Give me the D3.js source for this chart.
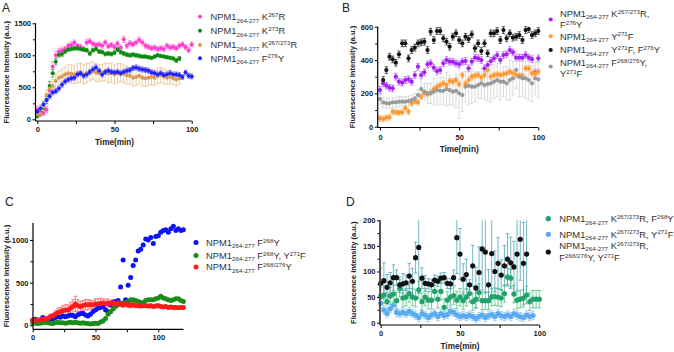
<!DOCTYPE html>
<html><head><meta charset="utf-8">
<script src="https://cdn.jsdelivr.net/npm/d3@7"></script>
<style>body{margin:0;background:#fff}svg{display:block}text{font-family:"Liberation Sans",Arial,Helvetica,sans-serif}</style>
</head><body><svg id="c" width="674" height="352"></svg>
<script>
// ---------------- DATA ----------------
const tA100 = [0,2,4,6,8,10,12,14,16,18,20,22,24,26,28,30,32,34,36,38,40,42,44,46,48,50,52,54,56,58,60,62,64,66,68,70,72,74,76,78,80,82,84,86,88,90,92,94,96,98,100];
const tA92 = [0,2,4,6,8,10,12,14,16,18,20,22,24,26,28,30,32,34,36,38,40,42,44,46,48,50,52,54,56,58,60,62,64,66,68,70,72,74,76,78,80,82,84,86,88,90,92];
const aK267R = [150,80,100,150,450,820,1000,1060,1080,1100,1150,1160,1200,1150,1130,1100,1200,1220,1180,1160,1170,1150,1200,1140,1160,1130,1180,1120,1250,1150,1190,1170,1200,1240,1200,1150,1130,1110,1120,1100,1110,1100,1150,1120,1130,1110,1150,1170,1130,1080,1170];
const aK267Rerr = [50,40,40,50,60,80,60,50,50,40,40,50,40,40,40,40,50,40,40,40,40,40,40,40,40,40,40,40,50,40,40,40,40,40,40,40,40,40,40,40,40,40,40,40,40,40,40,40,40,40,40];
const aK273R = [50,100,180,300,520,720,900,1010,1020,1060,1090,1100,1110,1110,1100,1090,1080,1030,1080,1100,1060,1050,1020,1030,1020,1040,1090,1050,1030,1010,1000,1010,1000,990,980,980,970,960,980,1000,990,980,970,960,950,920,950];
const aK273Rerr = [30,40,50,60,70,60,50,40,40,30,30,30,30,30,30,30,30,30,30,30,30,30,30,30,30,30,30,30,30,30,30,30,30,30,25,25,25,25,25,25,25,25,25,25,25,30,30];
const aK267273R = [80,90,200,380,480,520,600,650,670,700,720,710,700,720,730,700,720,740,760,730,720,730,740,720,730,700,720,730,710,690,680,650,660,680,650,640,650,660,650,680,690,670,650,660,640,620,640];
const aK267273Rerr = [30,40,60,80,90,100,100,110,120,120,130,140,140,150,150,150,150,140,140,140,130,130,140,150,150,150,150,140,140,140,130,130,130,130,130,130,120,120,120,120,120,120,110,110,100,100,90];
const aF276Y = [120,170,230,300,360,420,440,480,540,590,620,640,650,700,720,680,700,740,780,810,760,700,740,760,740,730,740,720,740,760,770,800,810,790,780,770,760,730,720,700,720,690,700,720,700,700,690,660,730,680,670];
const aF276Yerr = [40,50,50,50,40,40,40,40,40,40,40,40,40,40,40,40,40,40,40,40,40,40,40,40,40,40,40,40,40,40,40,40,40,40,40,40,40,40,40,40,40,40,40,40,40,40,40,40,40,40,40];

const tB100 = tA100;
const tB2 = [2,4,6,8,10,12,14,16,18,20,22,24,26,28,30,32,34,36,38,40,42,44,46,48,50,52,54,56,58,60,62,64,66,68,70,72,74,76,78,80,82,84,86,88,90,92,94,96,98,100];
const bK267273RF276Y = [220,260,246,234,230,300,270,264,280,284,270,310,360,310,326,374,380,354,334,340,380,400,390,390,380,374,390,394,350,390,414,410,400,350,370,394,410,430,400,430,434,460,446,414,414,414,430,414,405,325,410];
const bY271F = [50,46,54,56,90,86,84,86,110,90,140,154,146,180,200,194,206,226,240,250,260,250,274,270,280,254,310,260,280,300,306,310,294,310,340,300,310,314,310,314,320,330,320,310,306,306,350,350,320,320,330];
const bY271FF276Y = [280,340,420,404,384,434,500,500,410,460,474,500,506,510,460,570,520,574,574,530,510,480,540,560,520,500,540,526,554,470,500,454,500,440,560,560,574,520,580,530,560,534,540,550,520,580,586,550,560,574];
const bF268276YY271F = [166,146,140,140,146,146,150,150,150,154,160,170,190,226,210,200,200,210,220,215,215,225,220,210,215,200,190,240,245,240,240,250,260,250,255,260,270,280,270,270,260,280,290,340,300,290,290,280,260,290,284];
const bF268276YY271Ferr = [30,30,30,30,30,30,30,30,30,30,30,30,30,60,50,60,60,80,90,80,80,100,90,80,100,150,100,90,110,100,90,80,90,90,100,110,100,100,110,90,100,120,100,110,120,110,120,120,110,100,110];
const bErrSmall = 20;

const tC = [0,2,4,6,8,10,12,14,16,18,20,22,24,26,28,30,32,34,36,38,40,42,44,46,48,50,52,54,56,58,60,62,64,66,68,70,72,74,76,78,80,82,84,86,88,90,92,94,96,98,100,102,104,106,108,110,112,114,116,118,120];
const cF268Y = [60,70,60,55,90,70,65,80,75,90,100,95,110,100,110,120,115,100,125,135,140,120,110,130,160,180,200,210,220,180,160,240,270,280,290,450,765,300,470,560,700,765,870,890,940,1010,1000,1030,960,1040,1050,1090,1110,1120,1090,1130,1160,1110,1130,1110,1120];
const cF268YY271F = [30,25,20,25,30,35,30,25,20,30,35,30,30,25,30,35,30,35,30,25,30,25,20,15,20,25,20,40,50,80,130,160,190,220,240,250,260,265,280,300,300,290,280,270,260,290,300,300,300,310,320,340,320,310,300,290,300,310,310,290,280];
const cF268276Y = [60,55,60,65,70,75,80,100,110,130,150,160,170,180,180,200,220,250,230,220,230,240,240,245,240,250,250,255,260,250,260,255,260,250,260,250,240,250,240,235,240,230,230,225,230,230,225,230,220,225,230,220,215,220,210,215,210,210,205,210,210];
const cF268276Yerr = [20,20,20,20,20,20,25,30,30,40,50,50,60,60,60,70,80,90,70,60,60,60,60,50,50,60,60,60,50,50,50,40,40,40,30,30,30,30,30,30,25,20,20,20,20,20,20,20,20,20,20,15,15,15,15,15,15,15,15,15,15];

const tD92 = tA92;
const tD100 = tA100;
const tD96 = [0,2,4,6,8,10,12,14,16,18,20,22,24,26,28,30,32,34,36,38,40,42,44,46,48,50,52,54,56,58,60,62,64,66,68,70,72,74,76,78,80,82,84,86,88,90,92,94,96];
const dF268Y = [52,54,41,52,56,43,67,48,50,57,50,48,64,41,50,44,44,61,46,61,30,44,50,53,44,50,43,50,57,41,46,59,43,43,43,50,51,50,48,57,89,87,56,44,46,48,54,41,46,46,46];
const dY271F = [38,25,18,27,34,20,18,20,18,22,18,15,10,18,15,10,15,18,12,18,14,16,22,20,15,12,14,12,15,12,8,12,15,10,14,16,12,18,14,12,15,12,18,15,12,10,15,12,14];
const dTriple = [77,82,69,78,88,88,74,76,78,91,81,127,147,87,77,76,74,83,81,87,88,77,76,88,166,134,85,94,74,111,68,98,144,138,74,135,100,116,93,111,124,117,109,134,163,116,134];
const dTripleErr = [30,35,25,20,25,15,15,20,15,25,25,30,90,20,15,10,10,10,10,10,10,10,10,15,70,50,30,30,10,40,40,50,80,80,30,80,40,50,30,40,50,50,50,70,80,80,80];

// tick values
const xTicks = [0,50,100], xMinor = [25,75];
const yTicksA = [0,500,1000,1500], yMinorA = [250,750,1250];
const yTicksB = [0,200,400,600], yMinorB = [100,300,500];
const yTicksC = [0,500,1000], yMinorC = [250,750];
const yTicksD = [0,50,100,150,200], yMinorD = [25,75,125,175];

// legend labels: [text, kind]
const P = [["NPM1",""],["264-277","sub"]];
const legendA = [
  [[...P,[" K",""],["267","sup"],["R",""]]],
  [[...P,[" K",""],["273","sup"],["R",""]]],
  [[...P,[" K",""],["267/273","sup"],["R",""]]],
  [[...P,[" F",""],["276","sup"],["Y",""]]]
];
const legendB = [
  [[...P,[" K",""],["267/273","sup"],["R,",""]],[["F",""],["276","sup"],["Y",""]]],
  [[...P,[" Y",""],["271","sup"],["F",""]]],
  [[...P,[" Y",""],["271","sup"],["F, F",""],["276","sup"],["Y",""]]],
  [[...P,[" F",""],["268/276","sup"],["Y,",""]],[["Y",""],["271","sup"],["F",""]]]
];
const legendC = [
  [[...P,[" F",""],["268","sup"],["Y",""]]],
  [[...P,[" F",""],["268","sup"],["Y, Y",""],["271","sup"],["F",""]]],
  [[...P,[" F",""],["268/276","sup"],["Y",""]]]
];
const legendD = [
  [[...P,[" K",""],["267/273","sup"],["R, F",""],["268","sup"],["Y",""]]],
  [[...P,[" K",""],["267/273","sup"],["R, Y",""],["271","sup"],["F",""]]],
  [[...P,[" K",""],["267/273","sup"],["R,",""]],[["F",""],["268/276","sup"],["Y, Y",""],["271","sup"],["F",""]]]
];

// ---------------- DRAW ----------------
const svg = d3.select("#c");
const FONT_T = 7.5;

function richText(g, x, y, segs, size, fill){
  const t = g.append("text").attr("x",x).attr("y",y).attr("font-size",size).attr("fill",fill);
  let shift = 0;
  segs.forEach(([s,k])=>{
    const target = k==="sub" ? size*0.26 : (k==="sup" ? -size*0.36 : 0);
    t.append("tspan").attr("dy", target-shift).attr("font-size", k ? size*0.66 : size).text(s);
    shift = target;
  });
}

function panel(o){
  const g = svg.append("g");
  const x = d3.scaleLinear().domain(o.xd).range(o.xr);
  const y = d3.scaleLinear().domain(o.yd).range(o.yr);

  // error bars
  o.series.forEach(s=>{
    if(s.e===undefined) return;
    const eg = g.append("g").attr("stroke", s.ec).attr("stroke-width", 0.8).attr("fill","none");
    s.t.forEach((t,i)=>{
      const e = Array.isArray(s.e) ? s.e[i] : s.e;
      if(!e) return;
      const v = s.v[i];
      const hi = Math.min(o.yd[1], v+e), lo = Math.max(o.yd[0], v-e);
      const cx = x(t), cw = o.cap;
      eg.append("line").attr("x1",cx).attr("x2",cx).attr("y1",y(lo)).attr("y2",y(hi));
      if(v+e <= o.yd[1]) eg.append("line").attr("x1",cx-cw).attr("x2",cx+cw).attr("y1",y(hi)).attr("y2",y(hi));
      if(v-e >= o.yd[0]) eg.append("line").attr("x1",cx-cw).attr("x2",cx+cw).attr("y1",y(lo)).attr("y2",y(lo));
    });
  });
  // points
  o.series.forEach(s=>{
    g.append("g").attr("fill", s.c).selectAll("circle").data(s.t).join("circle")
      .attr("cx", d=>x(d)).attr("cy", (d,i)=>y(s.v[i])).attr("r", o.r);
  });

  // axes
  const xa = g.append("g").attr("transform",`translate(0,${o.axY})`)
    .call(d3.axisBottom(x).tickValues(xTicks.filter(v=>v<=o.xd[1])).tickSize(3).tickPadding(o.xpad).tickFormat(d=>d));
  const xm = g.append("g").attr("transform",`translate(0,${o.axY})`)
    .call(d3.axisBottom(x).tickValues(xMinor).tickSize(3).tickFormat(""));
  const ya = g.append("g").attr("transform",`translate(${o.axX},0)`)
    .call(d3.axisLeft(y).tickValues(o.yt).tickSize(3).tickPadding(1.5).tickFormat(d=>d));
  const ym = g.append("g").attr("transform",`translate(${o.axX},0)`)
    .call(d3.axisLeft(y).tickValues(o.ym).tickSize(2.5).tickFormat(""));
  [xa,xm,ya,ym].forEach(a=>{
    a.select(".domain").remove();
    a.selectAll("line").attr("stroke","#000").attr("stroke-width",1);
    a.selectAll("text").attr("font-size",FONT_T).attr("font-weight","bold").attr("fill","#222");
  });
  g.append("line").attr("x1",o.axX).attr("x2",x(o.xd[1])).attr("y1",o.axY).attr("y2",o.axY)
    .attr("stroke","#000").attr("stroke-width",1.2);
  g.append("line").attr("x1",o.axX).attr("x2",o.axX).attr("y1",y(o.yd[1])).attr("y2",o.axY)
    .attr("stroke",o.yaxColor||"#000").attr("stroke-width",o.yaxW||1.2);

  // titles
  g.append("text").attr("transform",`translate(${o.ylx},${(y(o.yd[1])+o.axY)/2}) rotate(-90)`)
    .attr("text-anchor","middle").attr("font-size",7.6).attr("font-weight","bold").attr("fill","#222")
    .text("Fluorescence Intensity (a.u.)");
  if(o.xly) g.append("text").attr("x",(x(o.xd[0])+x(100))/2).attr("y",o.xly).attr("text-anchor","middle")
    .attr("font-size",8.2).attr("font-weight","bold").attr("fill","#222").text("Time(min)");
  g.append("text").attr("x",o.lab[1]).attr("y",o.lab[2]).attr("font-size",12).attr("fill","#222").text(o.lab[0]);

  // legend
  o.legend.forEach((entry,i)=>{
    const L = o.leg[i];
    g.append("circle").attr("cx",o.mx).attr("cy",L.m).attr("r",o.r).attr("fill",o.series[i].c);
    entry.forEach((line,j)=> richText(g, o.tx, L.l[j]+3.4, line, 9.4, "#333"));
  });
}

panel({
  xd:[0,100], xr:[37.3,191.7], yd:[0,1500], yr:[119.3,23.3], axX:35.5, axY:121, xpad:2.5,
  yt:yTicksA, ym:yMinorA, r:2, cap:1.6, ylx:9, xly:144.5, lab:["A",2,11.5],
  series:[
    {t:tA100, v:aK267R, e:aK267Rerr, c:"#ff3fd0", ec:"#ff7fe0"},
    {t:tA92, v:aK273R, e:aK273Rerr, c:"#0c8a0c", ec:"#3faa3f"},
    {t:tA92, v:aK267273R, e:aK267273Rerr, c:"#d99a55", ec:"#e8c08e"},
    {t:tA100, v:aF276Y, e:aF276Yerr, c:"#2323ff", ec:"#7070ff"}
  ],
  legend:legendA, mx:200, tx:210.5,
  leg:[{m:16.7,l:[16.7]},{m:30.7,l:[30.7]},{m:45,l:[45]},{m:58.3,l:[58.3]}]
});

panel({
  xd:[0,100], xr:[380,538.3], yd:[0,600], yr:[126.7,26.7], axX:377.7, axY:127.5, xpad:4.5,
  yt:yTicksB, ym:yMinorB, r:2.1, cap:1.6, ylx:355, xly:152, lab:["B",342,11.5],
  series:[
    {t:tB100, v:bK267273RF276Y, e:bErrSmall, c:"#a21ff0", ec:"#b55af5"},
    {t:tB100, v:bY271F, e:16, c:"#ff9a2e", ec:"#ffb060"},
    {t:tB2, v:bY271FF276Y, e:bErrSmall, c:"#111", ec:"#333"},
    {t:tB100, v:bF268276YY271F, e:bF268276YY271Ferr, c:"#9a9a9a", ec:"#d2d2d2"}
  ],
  legend:legendB, mx:550.7, tx:560,
  leg:[{m:19.5,l:[13.5,24.8]},{m:36.3,l:[36.3]},{m:50,l:[50]},{m:66.5,l:[62.5,73.5]}]
});

panel({
  xd:[0,120], xr:[32.7,183.4], yd:[0,1200], yr:[325.3,222.9], axX:33, axY:329.3, xpad:2.5,
  yt:yTicksC, ym:yMinorC, r:2.5, cap:1.8, ylx:8.5, xly:null, lab:["C",5,205.5],
  series:[
    {t:tC, v:cF268Y, c:"#0a14f5"},
    {t:tC, v:cF268YY271F, c:"#1a8c1a"},
    {t:tC, v:cF268276Y, e:cF268276Yerr, c:"#ff1a1a", ec:"#ff5a5a"}
  ],
  legend:legendC, mx:196, tx:206,
  leg:[{m:242.5,l:[242.5]},{m:255.5,l:[255.5]},{m:267,l:[267]}]
});

panel({
  xd:[0,100], xr:[380.7,539.3], yd:[0,200], yr:[322.7,220.3], axX:380, axY:325, xpad:2.5,
  yt:yTicksD, ym:yMinorD, r:2.6, cap:1.8, ylx:356, xly:349, lab:["D",346,205.5], yaxColor:"#444", yaxW:1.8,
  series:[
    {t:tD100, v:dF268Y, e:17, c:"#1fa36b", ec:"#4fbf85"},
    {t:tD96, v:dY271F, e:8, c:"#5aaaf0", ec:"#90c8f5"},
    {t:tD92, v:dTriple, e:dTripleErr, c:"#111", ec:"#4aa6b8"}
  ],
  legend:legendD, mx:548.3, tx:559.3,
  leg:[{m:218.7,l:[218.7]},{m:234.3,l:[234.3]},{m:252,l:[245.5,258]}]
});
</script></body></html>
